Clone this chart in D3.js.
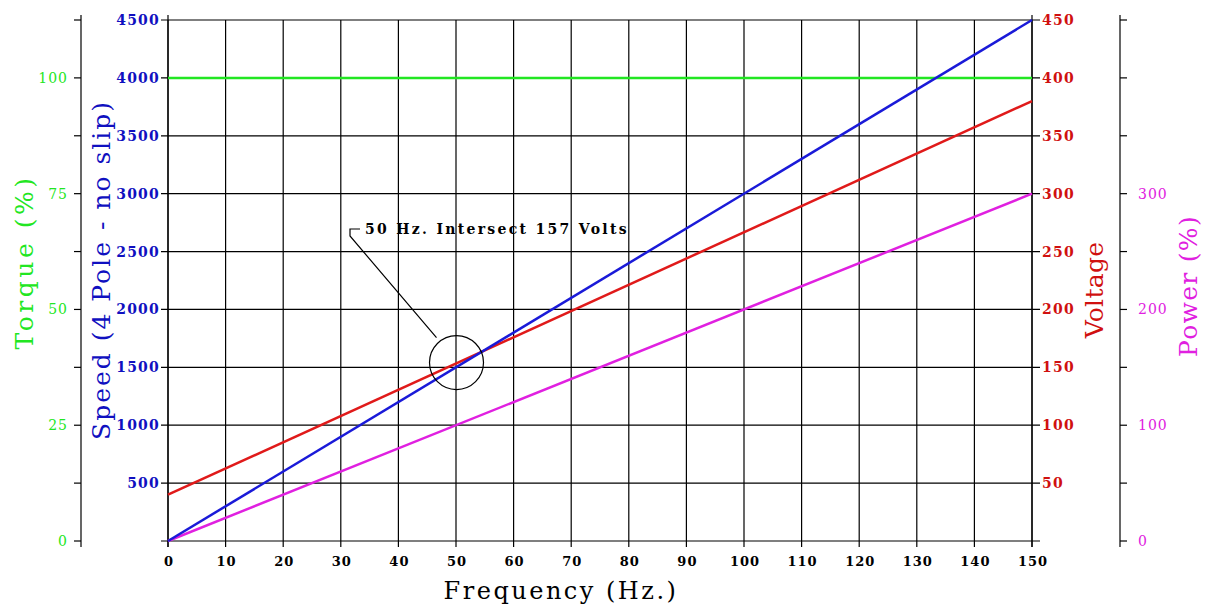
<!DOCTYPE html>
<html><head><meta charset="utf-8">
<script src="https://cdn.jsdelivr.net/npm/d3@7"></script>
<style>body{margin:0;background:#fff}svg{display:block}text{font-family:"DejaVu Serif",serif}</style>
</head><body><svg id="c" width="1208" height="605"></svg>
<script>
const freqTicks = [0,10,20,30,40,50,60,70,80,90,100,110,120,130,140,150];
const speedTicks = [500,1000,1500,2000,2500,3000,3500,4000,4500];
const torqueLabels = [0,25,50,75,100];
const voltageTicks = [50,100,150,200,250,300,350,400,450];
const powerLabels = [0,100,200,300];
const freq = [0,150];
const speed = [0,4500];
const voltage = [40,380];
const torque = [100,100];
const power = [0,300];
const annotation = {freq:50, speed:1550, text:"50 Hz. Intersect 157 Volts"};

const svg = d3.select("#c");
const x = d3.scaleLinear().domain([0,150]).range([168,1032]);
const yS = d3.scaleLinear().domain([0,4500]).range([541,20]);
const yT = d3.scaleLinear().domain([0,112.5]).range([541,20]);
const yV = d3.scaleLinear().domain([0,450]).range([541,20]);
const yP = d3.scaleLinear().domain([0,450]).range([541,20]);

const g = svg.append("g");
const K = "#000", SW = 1.2;
// grid
g.selectAll(".vg").data(freqTicks).join("line")
 .attr("x1",d=>x(d)).attr("x2",d=>x(d)).attr("y1",20).attr("y2",547)
 .attr("stroke",K).attr("stroke-width",SW);
g.selectAll(".hg").data([0].concat(speedTicks)).join("line")
 .attr("x1",161).attr("x2",1040).attr("y1",d=>yS(d)).attr("y2",d=>yS(d))
 .attr("stroke",K).attr("stroke-width",SW);
// axis lines
[168,1032,81,1120].forEach(ax=>{
  g.append("line").attr("x1",ax).attr("x2",ax).attr("y1",15).attr("y2",547).attr("stroke",K).attr("stroke-width",SW);
});
// torque ticks
const tTicks = d3.range(0,112.6,12.5);
g.selectAll(".tt").data(tTicks).join("line").attr("x1",74).attr("x2",81)
 .attr("y1",d=>yT(d)).attr("y2",d=>yT(d)).attr("stroke",K).attr("stroke-width",SW);
g.selectAll(".tl").data(torqueLabels).join("text").attr("x",68).attr("y",d=>yT(d)+5)
 .attr("text-anchor","end").attr("fill","#22e622").attr("font-size",14).attr("letter-spacing",1).text(d=>d);
// power ticks
const pTicks = d3.range(0,451,50);
g.selectAll(".pt").data(pTicks).join("line").attr("x1",1120).attr("x2",1127)
 .attr("y1",d=>yP(d)).attr("y2",d=>yP(d)).attr("stroke",K).attr("stroke-width",SW);
g.selectAll(".pl").data(powerLabels).join("text").attr("x",1138).attr("y",d=>yP(d)+5)
 .attr("fill","#e020e0").attr("font-size",14).attr("letter-spacing",1).text(d=>d);
// speed labels
g.selectAll(".sl").data(speedTicks).join("text").attr("x",160).attr("y",d=>yS(d)+5)
 .attr("text-anchor","end").attr("fill","#1010c0").attr("font-size",14).attr("font-weight","bold").attr("letter-spacing",1.2).text(d=>d);
// voltage labels
g.selectAll(".vl").data(voltageTicks).join("text").attr("x",1042).attr("y",d=>yV(d)+5)
 .attr("fill","#d01010").attr("font-size",14).attr("font-weight","bold").attr("letter-spacing",1.2).text(d=>d);
// freq labels
g.selectAll(".fl").data(freqTicks).join("text").attr("x",d=>x(d)+1).attr("y",566)
 .attr("text-anchor","middle").attr("fill","#000").attr("font-size",13).attr("font-weight","bold").attr("letter-spacing",1).text(d=>d);

// series
const line = (ys, vals) => d3.line().x((d,i)=>x(freq[i])).y((d)=>ys(d))(vals);
g.append("path").attr("d",line(yT,torque)).attr("stroke","#22e622").attr("stroke-width",2.5).attr("fill","none");
g.append("path").attr("d",line(yP,power)).attr("stroke","#e020e0").attr("stroke-width",2.5).attr("fill","none");
g.append("path").attr("d",line(yV,voltage)).attr("stroke","#e01a1a").attr("stroke-width",2.5).attr("fill","none");
g.append("path").attr("d",line(yS,speed)).attr("stroke","#1a1ad8").attr("stroke-width",2.5).attr("fill","none");

// annotation
const cx = x(annotation.freq)+0.5, cy = yS(annotation.speed)+1;
g.append("circle").attr("cx",cx).attr("cy",cy).attr("r",27).attr("fill","none").attr("stroke",K).attr("stroke-width",SW);
g.append("path").attr("d",`M${cx-20},${cy-25} L350,236 L350,229 L360,229`).attr("fill","none").attr("stroke",K).attr("stroke-width",SW);
g.append("text").attr("x",365).attr("y",234).attr("font-size",14).attr("font-weight","bold").attr("letter-spacing",2.3).text(annotation.text);

// titles
svg.append("text").attr("transform","translate(33,262) rotate(-90)").attr("text-anchor","middle")
 .attr("fill","#22e622").attr("font-size",25).attr("letter-spacing",3.5).text("Torque (%)");
svg.append("text").attr("transform","translate(110,270) rotate(-90)").attr("text-anchor","middle")
 .attr("fill","#1010c0").attr("font-size",25).attr("letter-spacing",2).text("Speed (4 Pole - no slip)");
svg.append("text").attr("transform","translate(1103,290) rotate(-90)").attr("text-anchor","middle")
 .attr("fill","#d01010").attr("font-size",25).attr("letter-spacing",0.3).text("Voltage");
svg.append("text").attr("transform","translate(1197,286) rotate(-90)").attr("text-anchor","middle")
 .attr("fill","#e020e0").attr("font-size",25).attr("letter-spacing",1.3).text("Power (%)");
svg.append("text").attr("x",561).attr("y",599).attr("text-anchor","middle")
 .attr("fill","#000").attr("font-size",24).attr("letter-spacing",2.5).text("Frequency (Hz.)");
</script></body></html>
